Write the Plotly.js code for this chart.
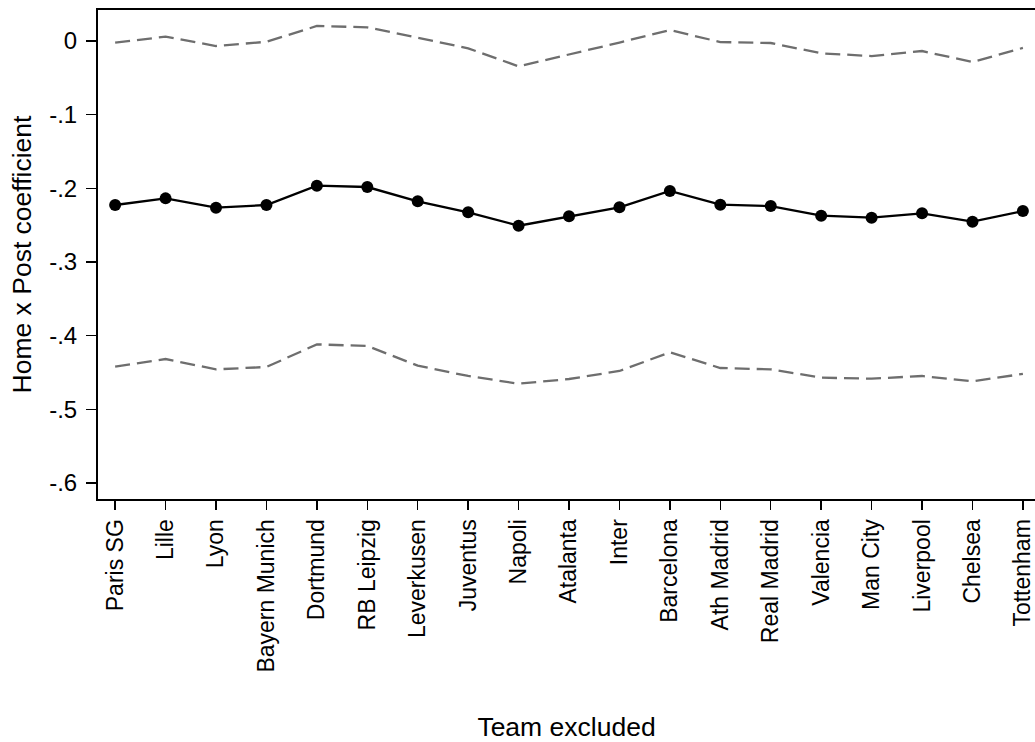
<!DOCTYPE html>
<html>
<head>
<meta charset="utf-8">
<script src="https://cdn.plot.ly/plotly-3.0.1.min.js"></script>
<style>
  html, body { margin: 0; padding: 0; background: #ffffff; overflow: hidden; }
  #chart { width: 1035px; height: 742px; }
</style>
</head>
<body>
<div id="chart"></div>
<script>
const teams = ["Paris SG", "Lille", "Lyon", "Bayern Munich", "Dortmund", "RB Leipzig",
  "Leverkusen", "Juventus", "Napoli", "Atalanta", "Inter", "Barcelona", "Ath Madrid",
  "Real Madrid", "Valencia", "Man City", "Liverpool", "Chelsea", "Tottenham"];

const coefficient = [-0.2226, -0.2136, -0.2262, -0.2226, -0.1964, -0.1982, -0.2176, -0.2326,
  -0.2507, -0.2380, -0.2258, -0.2036, -0.2222, -0.2240, -0.2371, -0.2398, -0.2339, -0.2452, -0.2308];

const upperCI = [-0.0023, 0.0059, -0.0068, -0.0010, 0.0204, 0.0186, 0.0045, -0.0099,
  -0.0344, -0.0184, -0.0021, 0.0149, -0.0014, -0.0027, -0.0167, -0.0204, -0.0136, -0.0285, -0.0094];

const lowerCI = [-0.4421, -0.4317, -0.4457, -0.4425, -0.4118, -0.4140, -0.4407, -0.4547,
  -0.4652, -0.4588, -0.4479, -0.4226, -0.4439, -0.4457, -0.4570, -0.4584, -0.4547, -0.4620, -0.4519];

const yTickVals = [0, -0.1, -0.2, -0.3, -0.4, -0.5, -0.6];
const yTickText = ["0", "-.1", "-.2", "-.3", "-.4", "-.5", "-.6"];

const font = "Liberation Sans, Arial, sans-serif";
const dashStyle = "15px,7px";
const ciColor = "#6e6e6e";

const traces = [
  {
    x: teams, y: upperCI, type: "scatter", mode: "lines",
    line: { color: ciColor, width: 2.3, dash: dashStyle },
    hoverinfo: "skip", showlegend: false
  },
  {
    x: teams, y: lowerCI, type: "scatter", mode: "lines",
    line: { color: ciColor, width: 2.3, dash: dashStyle },
    hoverinfo: "skip", showlegend: false
  },
  {
    x: teams, y: coefficient, type: "scatter", mode: "lines+markers",
    line: { color: "#000000", width: 2.3 },
    marker: { color: "#000000", size: 12 },
    showlegend: false
  }
];

const layout = {
  width: 1035, height: 742,
  margin: { l: 98, r: 0, t: 10, b: 243, pad: 0 },
  paper_bgcolor: "#ffffff", plot_bgcolor: "#ffffff",
  font: { family: font, size: 24, color: "#000000" },
  showlegend: false,
  xaxis: {
    type: "category",
    range: [-0.34, 18.24],
    tickangle: -90,
    ticks: "outside", ticklen: 9, tickwidth: 1.5, tickcolor: "#000000",
    ticklabelstandoff: 0,
    showline: true, linecolor: "#000000", linewidth: 2, mirror: true,
    showgrid: false, zeroline: false,
    tickfont: { family: font, size: 23, color: "#000000" },
    title: { text: "Team excluded", font: { family: font, size: 26.5, color: "#000000" }, standoff: 66 },
    automargin: false
  },
  yaxis: {
    range: [-0.6217, 0.0421],
    tickvals: yTickVals, ticktext: yTickText,
    ticks: "outside", ticklen: 10, tickwidth: 1.5, tickcolor: "#000000",
    ticklabelstandoff: 4,
    showline: true, linecolor: "#000000", linewidth: 2, mirror: false,
    showgrid: false, zeroline: false,
    tickfont: { family: font, size: 24, color: "#000000" },
    title: { text: "Home x Post coefficient", font: { family: font, size: 26.5, color: "#000000" }, standoff: 10 },
    automargin: false
  }
};

Plotly.newPlot("chart", traces, layout, { displayModeBar: false, staticPlot: true });
</script>
</body>
</html>
